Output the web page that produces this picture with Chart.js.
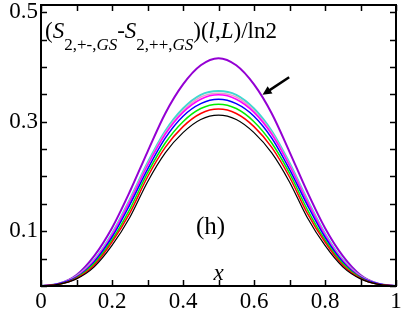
<!DOCTYPE html>
<html>
<head>
<meta charset="utf-8">
<script src="https://cdn.jsdelivr.net/npm/chart.js@4"></script>
<style>
	html, body { margin: 0; padding: 0; background: #fff; }
	#wrap { width: 407px; height: 315px; }
</style>
</head>
<body>
<div id="wrap"><canvas id="chart" width="407" height="315"></canvas></div>
<script>
// x = l/L
var xValues = [0, 0.05, 0.1, 0.15, 0.2, 0.25, 0.3, 0.35, 0.4, 0.45, 0.5, 0.55, 0.6, 0.65, 0.7, 0.75, 0.8, 0.85, 0.9, 0.95, 1];

// curves, lowest to highest
var curveBlack   = [0, 0.003, 0.013, 0.035, 0.074, 0.125, 0.190, 0.243, 0.280, 0.304, 0.312, 0.304, 0.280, 0.243, 0.190, 0.125, 0.074, 0.035, 0.013, 0.003, 0];
var curveRed     = [0, 0.003, 0.014, 0.038, 0.080, 0.133, 0.199, 0.253, 0.291, 0.315, 0.323, 0.315, 0.291, 0.253, 0.199, 0.133, 0.080, 0.038, 0.014, 0.003, 0];
var curveGreen   = [0, 0.003, 0.015, 0.041, 0.084, 0.140, 0.206, 0.261, 0.300, 0.324, 0.332, 0.324, 0.300, 0.261, 0.206, 0.140, 0.084, 0.041, 0.015, 0.003, 0];
var curveBlue    = [0, 0.004, 0.016, 0.044, 0.089, 0.148, 0.213, 0.270, 0.310, 0.333, 0.341, 0.333, 0.310, 0.270, 0.213, 0.148, 0.089, 0.044, 0.016, 0.004, 0];
var curveMagenta = [0, 0.004, 0.017, 0.046, 0.093, 0.154, 0.220, 0.277, 0.317, 0.341, 0.349, 0.341, 0.317, 0.277, 0.220, 0.154, 0.093, 0.046, 0.017, 0.004, 0];
var curvePink    = [0, 0.004, 0.018, 0.047, 0.094, 0.156, 0.222, 0.280, 0.320, 0.345, 0.352, 0.345, 0.320, 0.280, 0.222, 0.156, 0.094, 0.047, 0.018, 0.004, 0];
var curveCyan    = [0, 0.004, 0.018, 0.048, 0.096, 0.158, 0.225, 0.283, 0.324, 0.349, 0.356, 0.349, 0.324, 0.283, 0.225, 0.158, 0.096, 0.048, 0.018, 0.004, 0];
var curvePurple  = [0, 0.004, 0.020, 0.055, 0.106, 0.172, 0.245, 0.315, 0.368, 0.403, 0.416, 0.403, 0.368, 0.315, 0.245, 0.172, 0.106, 0.055, 0.020, 0.004, 0];

// ticks
var xTicks = [0, 0.1, 0.2, 0.3, 0.4, 0.5, 0.6, 0.7, 0.8, 0.9, 1];
var xTickLabels = ['0', '', '0.2', '', '0.4', '', '0.6', '', '0.8', '', '1'];
var yTicks = [0, 0.05, 0.1, 0.15, 0.2, 0.25, 0.3, 0.35, 0.4, 0.45, 0.5];
var yTickLabels = ['', '', '0.1', '', '', '', '0.3', '', '', '', '0.5'];

var SERIF = "'Liberation Serif', 'Times New Roman', Tinos, 'DejaVu Serif', serif";

function toPoints(arr) {
	return arr.map(function (v, i) { return { x: xValues[i], y: v }; });
}

function series(arr, color, width) {
	return {
		data: toPoints(arr),
		borderColor: color,
		backgroundColor: color,
		borderWidth: width,
		pointRadius: 0,
		cubicInterpolationMode: 'monotone',
		fill: false
	};
}

// Frame, inward ticks, annotations
var decorPlugin = {
	id: 'decor',
	afterDraw: function (chart) {
		var ctx = chart.ctx;
		var a = chart.chartArea;
		var xs = chart.scales.x, ys = chart.scales.y;
		ctx.save();
		ctx.strokeStyle = '#000';
		ctx.lineWidth = 1.5;
		ctx.beginPath();
		xTicks.forEach(function (v) {
			var px = Math.round(xs.getPixelForValue(v)) + 0.5;
			ctx.moveTo(px, a.bottom); ctx.lineTo(px, a.bottom - 6);
			ctx.moveTo(px, a.top); ctx.lineTo(px, a.top + 6);
		});
		yTicks.forEach(function (v) {
			var py = Math.round(ys.getPixelForValue(v)) + 0.5;
			ctx.moveTo(a.left, py); ctx.lineTo(a.left + 6, py);
			ctx.moveTo(a.right, py); ctx.lineTo(a.right - 6, py);
		});
		ctx.stroke();
		ctx.lineWidth = 2;
		ctx.strokeRect(a.left, a.top, a.right - a.left, a.bottom - a.top);

		// title: (S_{2,+-,GS}-S_{2,++,GS})(l,L)/ln2
		var parts = [
			['(', 'n', 23, 0], ['S', 'i', 23, 0], ['2,+-,', 'n', 17, 1], ['GS', 'i', 17, 1],
			['-', 'n', 23, 0], ['S', 'i', 23, 0], ['2,++,', 'n', 17, 1], ['GS', 'i', 17, 1],
			[')(', 'n', 23, 0], ['l', 'i', 23, 0], [',', 'n', 23, 0], ['L', 'i', 23, 0], [')/ln2', 'n', 23, 0]
		];
		var tx = 45, base = 38;
		ctx.fillStyle = '#000';
		ctx.textBaseline = 'alphabetic';
		ctx.textAlign = 'left';
		parts.forEach(function (p) {
			ctx.font = (p[1] === 'i' ? 'italic ' : '') + p[2] + 'px ' + SERIF;
			ctx.fillText(p[0], tx, base + (p[3] ? 12 : 0));
			tx += ctx.measureText(p[0]).width;
		});

		// (h) and x label
		ctx.font = '25px ' + SERIF;
		ctx.textAlign = 'center';
		ctx.fillText('(h)', xs.getPixelForValue(0.5) - 8, 234);
		ctx.font = 'italic 23px ' + SERIF;
		ctx.fillText('x', xs.getPixelForValue(0.5), 280);

		// arrow pointing to the purple curve
		var x0 = xs.getPixelForValue(0.699), y0 = ys.getPixelForValue(0.381);
		var x1 = xs.getPixelForValue(0.624), y1 = ys.getPixelForValue(0.349);
		var ang = Math.atan2(y1 - y0, x1 - x0);
		ctx.lineWidth = 2.5;
		ctx.beginPath();
		ctx.moveTo(x0, y0);
		ctx.lineTo(x1 - 4 * Math.cos(ang), y1 - 4 * Math.sin(ang));
		ctx.stroke();
		ctx.beginPath();
		ctx.moveTo(x1, y1);
		ctx.lineTo(x1 - 10 * Math.cos(ang - 0.45), y1 - 10 * Math.sin(ang - 0.45));
		ctx.lineTo(x1 - 10 * Math.cos(ang + 0.45), y1 - 10 * Math.sin(ang + 0.45));
		ctx.closePath();
		ctx.fill();
		ctx.restore();
	}
};

new Chart(document.getElementById('chart'), {
	type: 'line',
	data: {
		datasets: [
			series(curveBlack, '#000000', 1.2),
			series(curveRed, '#ff0000', 1.5),
			series(curveGreen, '#00ee00', 1.5),
			series(curveBlue, '#0000ff', 1.5),
			series(curveMagenta, '#ff00ff', 1.5),
			series(curvePink, '#e8a0c8', 1.5),
			series(curveCyan, '#40d8d0', 2),
			series(curvePurple, '#9400d3', 2)
		]
	},
	options: {
		responsive: false,
		animation: false,
		layout: { padding: { top: 5, right: 11, left: 0, bottom: 0 } },
		plugins: { legend: { display: false }, tooltip: { enabled: false } },
		scales: {
			x: {
				type: 'linear', min: 0, max: 1,
				grid: { display: false, drawTicks: false },
				border: { display: false },
				afterBuildTicks: function (s) { s.ticks = xTicks.map(function (v) { return { value: v }; }); },
				afterFit: function (s) { s.height = 29; },
				ticks: {
					autoSkip: false, maxRotation: 0, padding: 2, color: '#000',
					font: { family: SERIF, size: 23 },
					callback: function (v, i) { return xTickLabels[i]; }
				}
			},
			y: {
				type: 'linear', min: 0, max: 0.513,
				grid: { display: false, drawTicks: false },
				border: { display: false },
				afterBuildTicks: function (s) { s.ticks = yTicks.map(function (v) { return { value: v }; }); },
				afterFit: function (s) { s.width = 41; s.paddingTop = 0; },
				ticks: {
					autoSkip: false, padding: 3, color: '#000',
					font: { family: SERIF, size: 23 },
					callback: function (v, i) { return yTickLabels[i]; }
				}
			}
		}
	},
	plugins: [decorPlugin]
});
</script>
</body>
</html>
